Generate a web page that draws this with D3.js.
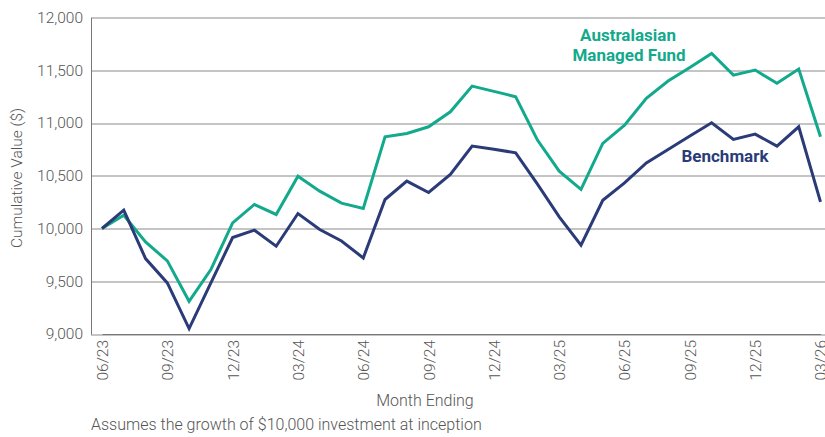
<!DOCTYPE html>
<meta charset="UTF-8">
<script src="https://cdn.jsdelivr.net/npm/d3@7"></script>
<style>
  body { margin: 0; background: #fff; }
  text { font-family: Roboto, "Liberation Sans", sans-serif; }
</style>
<div id="chart"></div>
<script>
  // Data
  const months = ["06/23","07/23","08/23","09/23","10/23","11/23","12/23","01/24","02/24","03/24","04/24","05/24",
                  "06/24","07/24","08/24","09/24","10/24","11/24","12/24","01/25","02/25","03/25","04/25","05/25",
                  "06/25","07/25","08/25","09/25","10/25","11/25","12/25","01/26","02/26","03/26"];
  const fund = [10000,10125,9873,9693,9310,9611,10053,10228,10133,10496,10354,10240,
                10190,10869,10901,10964,11106,11350,11300,11249,10838,10544,10370,10806,
                10980,11233,11398,11527,11660,11454,11502,11376,11511,10869];
  const bench = [10000,10174,9715,9484,9051,9484,9914,9984,9832,10142,9990,9882,
                 9721,10275,10449,10341,10512,10781,10752,10717,10420,10110,9842,10268,
                 10433,10622,10749,10876,11002,10844,10895,10781,10964,10252];
  const yTicks = [9000,9500,10000,10500,11000,11500,12000];
  const xTickLabels = ["06/23","09/23","12/23","03/24","06/24","09/24","12/24","03/25","06/25","09/25","12/25","03/26"];

  const W = 825, H = 437;
  const margin = {top: 17.5, right: 0, bottom: 103, left: 91};
  const width = W - margin.left - margin.right,
        height = H - margin.top - margin.bottom;

  const teal = "#13a98c", navy = "#2a3b78";

  const svg = d3.select("#chart").append("svg")
    .attr("width", W).attr("height", H);
  const g = svg.append("g").attr("transform", `translate(${margin.left},${margin.top})`);

  const x = d3.scalePoint().domain(months).range([11, 729.5]);
  const y = d3.scaleLinear().domain([9000, 12000]).range([height, 0]);

  // grid
  g.append("g").selectAll("line").data(yTicks).join("line")
    .attr("x1", 0).attr("x2", width)
    .attr("y1", d => Math.round(y(d)) + 0.5).attr("y2", d => Math.round(y(d)) + 0.5)
    .attr("stroke", "#8a8a8a").attr("stroke-width", 1);

  // y axis
  const yAxis = g.append("g")
    .call(d3.axisLeft(y).tickValues(yTicks).tickSize(0).tickPadding(8).tickFormat(d3.format(",")));
  yAxis.select(".domain").attr("stroke", "#777");
  yAxis.selectAll("text").attr("fill", "#555").style("font-size", "15.5px").style("font-weight", 300);

  // x axis
  const xAxis = g.append("g").attr("transform", `translate(0,${height})`)
    .call(d3.axisBottom(x).tickValues(xTickLabels).tickSize(0));
  xAxis.select(".domain").attr("stroke", "#777");
  xAxis.selectAll("text")
    .attr("fill", "#555").style("font-size", "15.5px").style("font-weight", 300)
    .attr("transform", "rotate(-90)")
    .attr("text-anchor", "end")
    .attr("x", -6).attr("y", 0).attr("dy", "0.35em");

  // lines
  const line = d3.line().x((d, i) => x(months[i])).y(d => y(d));
  g.append("path").datum(fund).attr("d", line)
    .attr("fill", "none").attr("stroke", teal).attr("stroke-width", 3);
  g.append("path").datum(bench).attr("d", line)
    .attr("fill", "none").attr("stroke", navy).attr("stroke-width", 3);

  // series labels
  svg.append("text").attr("x", 628).attr("y", 41).attr("text-anchor", "middle")
    .attr("fill", teal).style("font-size", "17px").style("font-weight", 700).text("Australasian");
  svg.append("text").attr("x", 629).attr("y", 61).attr("text-anchor", "middle")
    .attr("fill", teal).style("font-size", "17px").style("font-weight", 700).text("Managed Fund");
  svg.append("text").attr("x", 725).attr("y", 162).attr("text-anchor", "middle")
    .attr("fill", navy).style("font-size", "17px").style("font-weight", 700).text("Benchmark");

  // axis titles
  svg.append("text").attr("transform", "rotate(-90)")
    .attr("x", -178).attr("y", 22).attr("text-anchor", "middle")
    .attr("fill", "#555").style("font-size", "15.5px").style("font-weight", 300)
    .text("Cumulative Value ($)");
  svg.append("text").attr("x", 425).attr("y", 406).attr("text-anchor", "middle")
    .attr("fill", "#555").style("font-size", "16px").style("font-weight", 300)
    .text("Month Ending");
  svg.append("text").attr("x", 91).attr("y", 430)
    .attr("fill", "#555").style("font-size", "16px").style("font-weight", 300)
    .text("Assumes the growth of $10,000 investment at inception");
</script>
